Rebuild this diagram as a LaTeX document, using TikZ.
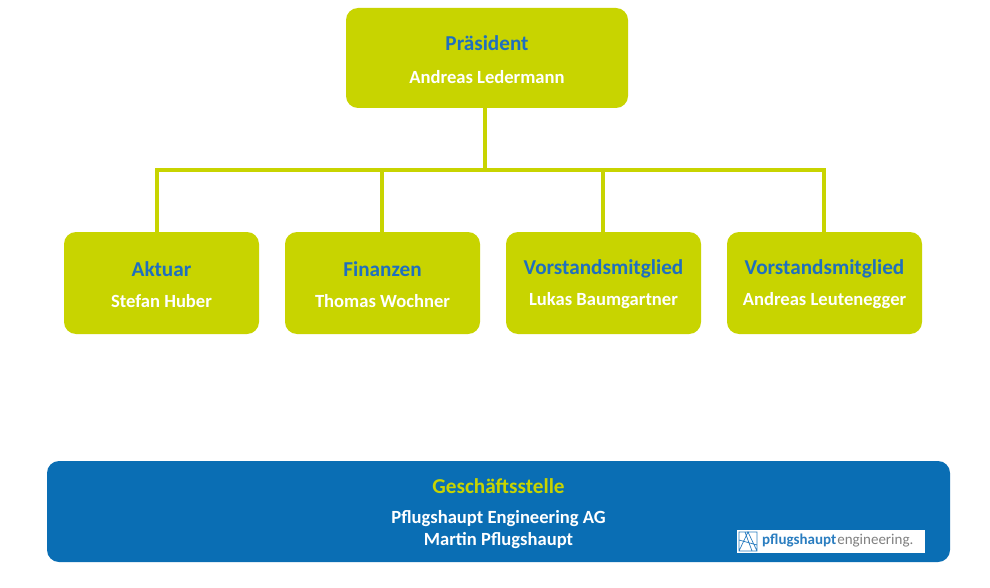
\documentclass[tikz,border=0pt]{standalone}
\usepackage{fontspec}
\setmainfont{Carlito}
\begin{document}
\begin{tikzpicture}[x=1pt,y=-1pt,
 box/.style={fill=lime1,rounded corners=12pt,inner sep=0},
 conn/.style={draw=lime1,line width=4pt},
 ttl/.style={text=blue1,font=\bfseries\fontsize{21.2}{25}\selectfont},
 nm/.style={text=white,font=\bfseries\fontsize{18.6}{22}\selectfont}]
\definecolor{lime1}{HTML}{C8D400}
\definecolor{blue1}{HTML}{1F6FBF}
\definecolor{blue2}{HTML}{0A6EB4}
\definecolor{logob}{HTML}{2A7DC0}
\useasboundingbox (0,0) rectangle (990,588);
\fill[white] (0,0) rectangle (990,588);
\coordinate (hub) at (485,170);
\coordinate (l) at (157,170);
\coordinate (r) at (824,170);
\coordinate (m1) at (382,170);
\coordinate (m2) at (603,170);
\node[box,minimum width=282pt,minimum height=100pt] (p) at (487,58) {};
\node[box,minimum width=195pt,minimum height=102pt] (a) at (161.5,283) {};
\node[box,minimum width=195pt,minimum height=102pt] (f) at (382.5,283) {};
\node[box,minimum width=195pt,minimum height=102pt] (v1) at (603.5,283) {};
\node[box,minimum width=195pt,minimum height=102pt] (v2) at (824.5,283) {};
\draw[conn] (hub|-p.south) -- (hub);
\draw[conn,line cap=rect] (l) -- (r);
\draw[conn] (l) -- (l|-a.north);
\draw[conn] (m1) -- (m1|-f.north);
\draw[conn] (m2) -- (m2|-v1.north);
\draw[conn] (r) -- (r|-v2.north);
\node[ttl] (pt) at (487,43) {Präsident};
\node[nm] (pn) at (487,77) {Andreas Ledermann};
\node[ttl] (at) at (161.5,269) {Aktuar};
\node[nm] (an) at (161.5,301) {Stefan Huber};
\node[ttl] (ft) at (382.5,269) {Finanzen};
\node[nm] (fn) at (382.5,301) {Thomas Wochner};
\node[ttl] (v1t) at (603.5,269) {Vorstandsmitglied};
\node[nm] (v1n) at (603.5,301) {Lukas Baumgartner};
\node[ttl] (v2t) at (824.5,269) {Vorstandsmitglied};
\node[nm] (v2n) at (824.5,301) {Andreas Leutenegger};
\node[fill=blue2,rounded corners=12pt,minimum width=903pt,minimum height=101pt] (g) at (498.5,511.5) {};
\node[text=lime1,font=\bfseries\fontsize{21.2}{25}\selectfont] (gt) at (498.5,486) {Geschäftsstelle};
\node[nm,align=center,font=\bfseries\fontsize{18.6}{22}\selectfont] (gn) at (498.5,530) {Pflugshaupt Engineering AG\\Martin Pflugshaupt};
\node[fill=white,minimum width=188pt,minimum height=23pt,inner sep=0] (logo) at (831,541.5) {};
\draw[logob,line width=0.7pt] (739,532) rectangle (757,551) (739,551)--(748,532)--(757,551) (739,540)--(757,545) (745,532)--(752,551);
\node[anchor=west,inner sep=0,font=\fontsize{15}{18}\selectfont] (lt) at (762,541) {\textcolor{logob}{\bfseries pflugshaupt}\hspace{1pt}\textcolor{gray}{engineering.}};
\end{tikzpicture}
\end{document}
